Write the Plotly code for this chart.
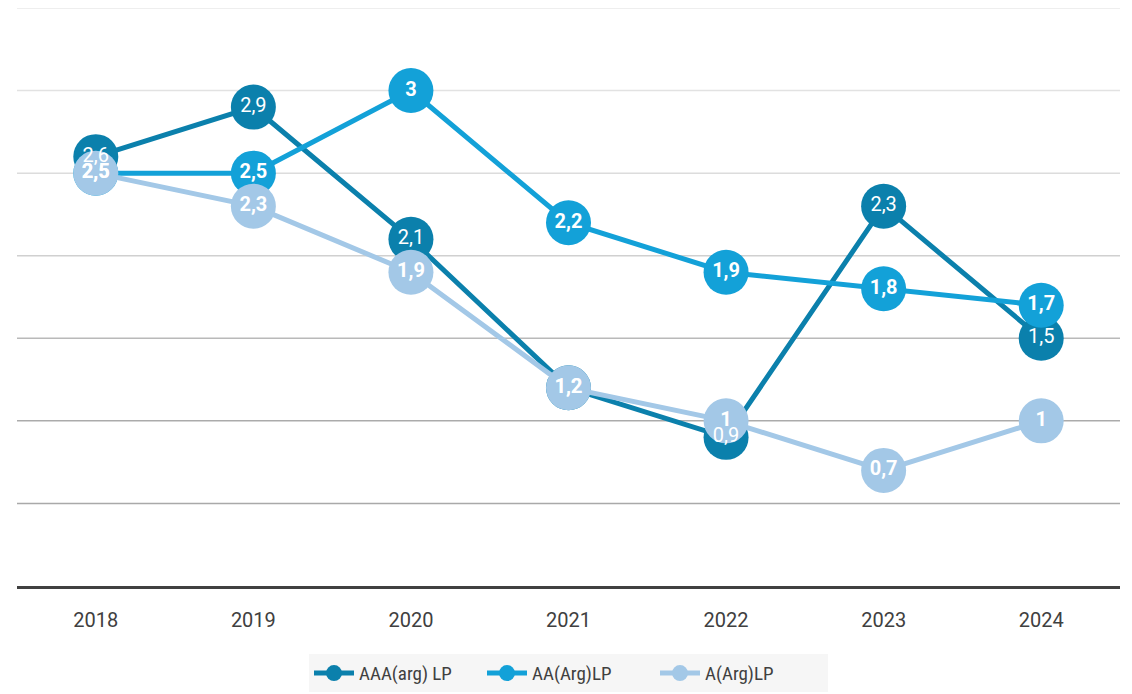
import plotly.graph_objects as go

years = ["2018", "2019", "2020", "2021", "2022", "2023", "2024"]
aaa = [2.6, 2.9, 2.1, 1.2, 0.9, 2.3, 1.5]
aa = [2.5, 2.5, 3.0, 2.2, 1.9, 1.8, 1.7]
a = [2.5, 2.3, 1.9, 1.2, 1.0, 0.7, 1.0]
names = ["AAA(arg) LP", "AA(Arg)LP", "A(Arg)LP"]
colors = ["#0b80ac", "#13a1d8", "#a3c8e7"]
grid_vals = [0.5, 1.0, 1.5, 2.0, 2.5, 3.0, 3.5]
grid_colors = ["#a9a9a9", "#ababab", "#b9b9b9", "#d0d0d0", "#dcdcdc", "#e2e2e2", "#e8e8e8"]


def fmt(v):
    s = ("%g" % v)
    return s.replace(".", ",")


series = [aaa, aa, a]
fig = go.Figure()
for name, vals, col in zip(names, series, colors):
    fig.add_trace(go.Scatter(
        x=years, y=vals, name=name, mode="lines+markers",
        line=dict(color=col, width=5),
        marker=dict(color=col, size=45, line=dict(width=0)),
        cliponaxis=False,
    ))
for i, (name, vals) in enumerate(zip(names, series)):
    bold = i > 0
    fig.add_trace(go.Scatter(
        x=years, y=vals, mode="text", showlegend=False, hoverinfo="skip",
        text=[fmt(v) for v in vals],
        texttemplate="<b>%{text}</b>" if bold else "%{text}",
        textposition="middle center",
        textfont=dict(color="white", size=20, family="Roboto"),
        cliponaxis=False,
    ))

shapes = []
for gv, gc in zip(grid_vals, grid_colors):
    shapes.append(dict(type="line", xref="paper", yref="y", x0=0, x1=1, y0=gv, y1=gv,
                       line=dict(color=gc, width=1.5), layer="below"))

fig.update_layout(
    width=1116, height=686,
    margin=dict(l=9, r=4, t=0, b=108),
    plot_bgcolor="white", paper_bgcolor="white",
    shapes=shapes,
    showlegend=True,
    legend=dict(orientation="h", x=0.5, xanchor="center", y=-0.118, yanchor="top",
                bgcolor="#f6f6f6", font=dict(size=19, color="#404040", family="Roboto Condensed, Liberation Sans Narrow, Roboto"),
                itemwidth=40, entrywidth=118, tracegroupgap=0),
    xaxis=dict(type="category", range=[-0.5, 6.5], showgrid=False,
               showline=True, linecolor="#404040", linewidth=3,
               ticks="", ticklabelstandoff=14,
               tickfont=dict(size=20, color="#404040", family="Roboto"),
               fixedrange=True),
    yaxis=dict(range=[0, 3.5], showgrid=False, zeroline=False, showticklabels=False,
               showline=False, fixedrange=True),
)

fig.write_html("out.html")
